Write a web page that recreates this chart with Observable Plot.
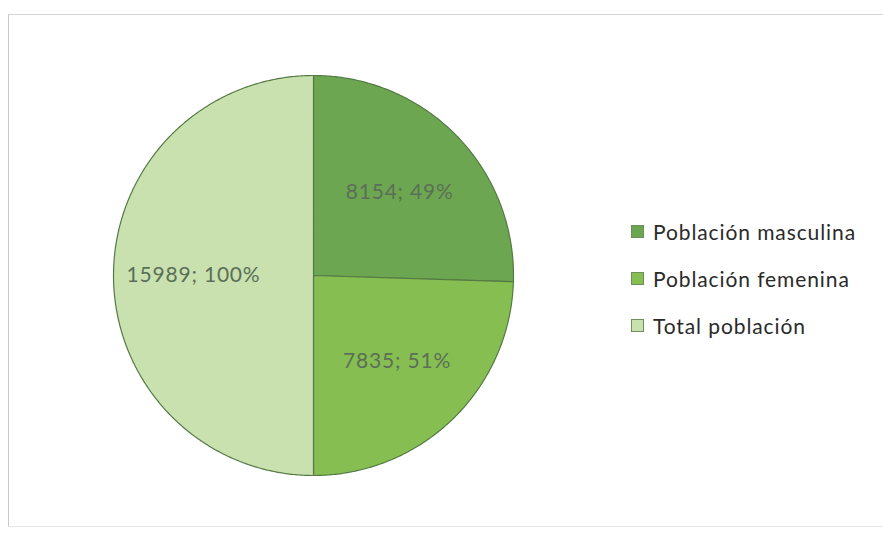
<!DOCTYPE html>
<html>
<head>
<meta charset="utf-8">
<script src="https://cdn.jsdelivr.net/npm/d3@7"></script>
<script src="https://cdn.jsdelivr.net/npm/@observablehq/plot@0.6"></script>
<style>
  html, body { margin: 0; padding: 0; background: #fff; }
  #wrap { position: relative; width: 883px; height: 535px; overflow: hidden; }
  #frame { position: absolute; left: 8px; top: 14px; width: 880px; height: 513px;
           border-left: 1px solid #c8c8c8; border-top: 1px solid #d4d4d4; border-bottom: 1px solid #e6e6e6; box-sizing: border-box; }
  #legend { position: absolute; left: 631px; top: 208px; font-family: Lato, "Open Sans", sans-serif; font-size: 21px; letter-spacing: 0.9px; color: #2a2a2a; }
  #legend .row { display: flex; align-items: center; height: 47px; }
  #legend .sw { width: 13px; height: 13px; margin-right: 9px; box-sizing: border-box; border: 1px solid #6d8f5a; }
  #chart { position: absolute; left: 0; top: 0; }
</style>
</head>
<body>
<div id="wrap">
  <div id="frame"></div>
  <div id="chart"></div>
  <div id="legend"></div>
</div>
<script>
const categories = ["Población masculina", "Población femenina", "Total población"];
const values = [8154, 7835, 15989];
const labels = ["8154; 49%", "7835; 51%", "15989; 100%"];
const colors = ["#6ca650", "#86be52", "#c8e1af"];

const pie = d3.pie().sort(null).value(d => d.value)(
  categories.map((c, i) => ({category: c, value: values[i], label: labels[i]}))
);

// polygon points for each slice (unit circle, y up)
const pts = [];
pie.forEach(s => {
  const n = Math.max(2, Math.ceil((s.endAngle - s.startAngle) / 0.01));
  pts.push({category: s.data.category, x: 0, y: 0});
  for (let k = 0; k <= n; k++) {
    const a = s.startAngle + (s.endAngle - s.startAngle) * k / n;
    pts.push({category: s.data.category, x: Math.sin(a), y: Math.cos(a)});
  }
  pts.push({category: s.data.category, x: 0, y: 0});
});

const labelPts = pie.map(s => {
  const a = (s.startAngle + s.endAngle) / 2;
  const r = 0.6;
  return {label: s.data.label, x: r * Math.sin(a), y: r * Math.cos(a)};
});

const plot = Plot.plot({
  width: 883,
  height: 535,
  marginLeft: 113,
  marginRight: 370,
  marginTop: 75,
  marginBottom: 60,
  x: {domain: [-1, 1], axis: null},
  y: {domain: [-1, 1], axis: null},
  color: {domain: categories, range: colors},
  style: {background: "transparent"},
  marks: [
    Plot.line(pts, {x: "x", y: "y", z: "category", fill: "category", stroke: "#557a45", strokeWidth: 1.2, curve: "linear"}),
    Plot.text(labelPts, {x: "x", y: "y", text: "label", fill: "#5b6f58", fontSize: 21, fontFamily: "Lato, 'Open Sans', sans-serif", style: "letter-spacing: 0.8px"})
  ]
});
document.getElementById("chart").appendChild(plot);
plot.querySelectorAll("text").forEach(t => t.style.letterSpacing = "0.8px");

const legend = d3.select("#legend");
categories.forEach((c, i) => {
  const row = legend.append("div").attr("class", "row");
  row.append("div").attr("class", "sw").style("background", colors[i]);
  row.append("span").text(c);
});
</script>
</body>
</html>
